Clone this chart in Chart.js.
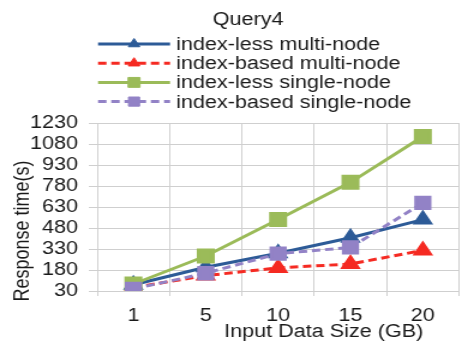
<!DOCTYPE html>
<html>
<head>
<meta charset="utf-8">
<script src="https://cdn.jsdelivr.net/npm/chart.js@4/dist/chart.umd.min.js"></script>
<style>
  html, body { margin: 0; padding: 0; background: #fff; overflow: hidden; }
  #wrap { width: 462px; height: 350px; overflow: hidden; }
  /* the reference picture is stretched sideways, so the canvas is too */
  #c { transform: scaleX(1.2); transform-origin: 0 0; }
</style>
</head>
<body>
<div id="wrap"><canvas id="c" width="394" height="350" style="width:394px;height:350px"></canvas></div>
<script>
// Datos
const categories = ['1', '5', '10', '15', '20'];
const indexLessMulti = [75, 200, 300, 410, 540];
const indexBasedMulti = [55, 140, 195, 223, 320];
const indexLessSingle = [80, 280, 541, 806, 1134];
const indexBasedSingle = [45, 157, 297, 341, 659];
const yTicks = [30, 180, 330, 480, 630, 780, 930, 1080, 1230];

const chartTitle = 'Query4';
const xTitle = 'Input Data Size (GB)';
const yTitle = 'Response time(s)';

Chart.defaults.font.family = '"Liberation Sans", Arial, sans-serif';
Chart.defaults.font.size = 18;
Chart.defaults.color = '#1a1a1a';

const gridColor = '#cfcfcf';

// Título, leyenda y títulos de ejes dibujados a mano
const textos = {
  id: 'textos',
  afterDraw(chart) {
    const ctx = chart.ctx;
    const area = chart.chartArea;
    ctx.save();
    ctx.fillStyle = '#1a1a1a';
    ctx.font = '18px "Liberation Sans", Arial, sans-serif';
    ctx.textBaseline = 'alphabetic';
    ctx.textAlign = 'center';
    ctx.fillText(chartTitle, 206.7, 24.5);

    // leyenda
    chart.data.datasets.forEach(function(ds, i) {
      const y = 44 + i * 19.2;
      const x0 = area.left + 0.7, x1 = area.left + 60.7;
      ctx.strokeStyle = ds.borderColor;
      ctx.lineWidth = ds.borderWidth;
      ctx.setLineDash(ds.borderDash || []);
      ctx.beginPath();
      ctx.moveTo(x0, y);
      ctx.lineTo(x1, y);
      ctx.stroke();
      ctx.setLineDash([]);
      ctx.fillStyle = ds.pointBackgroundColor;
      ctx.strokeStyle = ds.borderColor;
      ctx.lineWidth = 1;
      Chart.helpers.drawPoint(ctx, {pointStyle: ds.pointStyle, radius: ds.pointRadius - 1.5, rotation: 0, borderWidth: 1}, (x0 + x1) / 2, y);
      ctx.fillStyle = '#1a1a1a';
      ctx.textAlign = 'left';
      ctx.textBaseline = 'middle';
      ctx.fillText(ds.label, area.left + 65.7, y + 1);
    });

    // título eje x
    ctx.textAlign = 'center';
    ctx.textBaseline = 'alphabetic';
    ctx.fillText(xTitle, 269.8, 337);

    // título eje y
    ctx.translate(23.7, 231);
    ctx.rotate(-Math.PI / 2);
    ctx.fillText(yTitle, 0, 0);
    ctx.restore();
  }
};

new Chart(document.getElementById('c').getContext('2d'), {
  type: 'line',
  data: {
    labels: categories,
    datasets: [{
      label: 'index-less multi-node',
      data: indexLessMulti,
      borderColor: '#2d5b97',
      pointBackgroundColor: '#2d5b97',
      borderWidth: 3,
      pointStyle: 'triangle',
      pointRadius: 7,
      order: 3
    }, {
      label: 'index-based multi-node',
      data: indexBasedMulti,
      borderColor: '#f52a22',
      pointBackgroundColor: '#f52a22',
      borderWidth: 3,
      borderDash: [7, 4],
      pointStyle: 'triangle',
      pointRadius: 7,
      order: 2
    }, {
      label: 'index-less single-node',
      data: indexLessSingle,
      borderColor: '#9bbb59',
      pointBackgroundColor: '#9bbb59',
      borderWidth: 3,
      pointStyle: 'rect',
      pointRadius: 8.5,
      order: 1
    }, {
      label: 'index-based single-node',
      data: indexBasedSingle,
      borderColor: '#9282c6',
      pointBackgroundColor: '#9282c6',
      borderWidth: 3,
      borderDash: [7, 4],
      pointStyle: 'rect',
      pointRadius: 8,
      order: 0
    }]
  },
  options: {
    responsive: false,
    devicePixelRatio: 1,
    animation: false,
    layout: { padding: { top: 123, left: 0, right: 0, bottom: 0 } },
    plugins: {
      legend: { display: false },
      title: { display: false },
      tooltip: { enabled: false }
    },
    elements: {
      line: { tension: 0 },
      point: { borderWidth: 1 }
    },
    scales: {
      x: {
        offset: true,
        grid: { offset: true, color: gridColor, tickLength: 5 },
        border: { color: gridColor },
        ticks: { padding: 9, color: '#1a1a1a' },
        afterFit: function(scale) { scale.height = 59; }
      },
      y: {
        min: 30,
        max: 1230,
        grid: { color: gridColor, tickLength: 7 },
        border: { color: gridColor },
        ticks: {
          padding: 9,
          color: '#1a1a1a',
          autoSkip: false,
          callback: function(v) { return String(v); }
        },
        afterBuildTicks: function(scale) {
          scale.ticks = yTicks.map(function(v) { return { value: v }; });
        },
        afterFit: function(scale) { scale.width = 81; }
      }
    }
  },
  plugins: [textos]
});
</script>
</body>
</html>
